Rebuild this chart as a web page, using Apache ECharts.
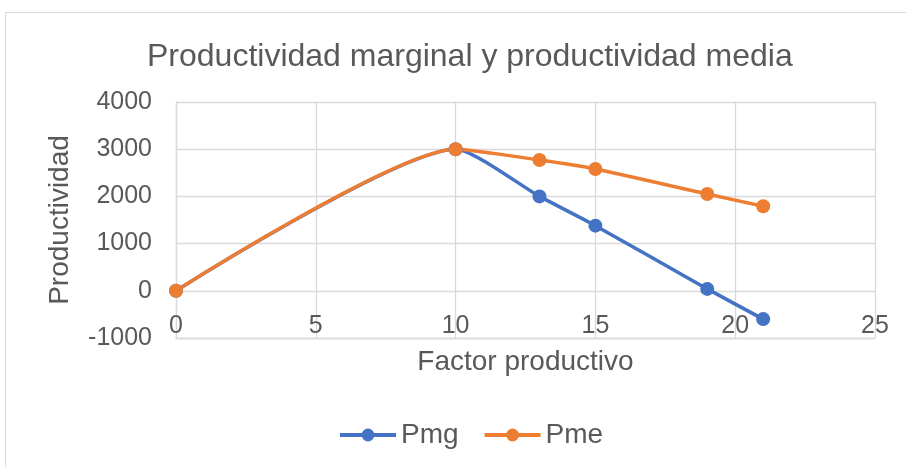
<!DOCTYPE html>
<html><head><meta charset="utf-8">
<script src="https://cdn.jsdelivr.net/npm/echarts@6/dist/echarts.min.js"></script>
<style>html,body{margin:0;padding:0;background:#fff}#c{width:906px;height:467px}</style>
</head><body><div id="c"></div>
<script>
const factor = [0, 10, 13, 15, 19, 21];
const pmg = [0, 3000, 2000, 1380, 40, -600];
const pme = [0, 3000, 2770, 2580, 2050, 1790];
const seriesNames = ['Pmg', 'Pme'];
const chartTitle = 'Productividad marginal y productividad media';
const xName = 'Factor productivo';
const yName = 'Productividad';

const chart = echarts.init(document.getElementById('c'));
const txt = '#595959';
const ff = '"Liberation Sans", Arial, sans-serif';
chart.setOption({
  animation: false,
  textStyle: {fontFamily: ff},
  graphic: [{type: 'rect', shape: {x: 5.5, y: 12.5, width: 1000, height: 1000}, style: {fill: 'none', stroke: '#d9d9d9', lineWidth: 1}}],
  title: {text: chartTitle, left: 142, top: 36, textStyle: {fontFamily: ff, fontSize: 32, fontWeight: 'normal', color: txt}},
  legend: {top: 416, left: 333, itemWidth: 56, itemHeight: 16, itemGap: 24,
    lineStyle: {width: 4},
    textStyle: {fontFamily: ff, fontSize: 28, color: txt}, data: seriesNames},
  grid: {left: 176, right: 31, top: 102, bottom: 129, containLabel: false},
  xAxis: {type: 'value', min: 0, max: 25, interval: 5,
    name: xName, nameLocation: 'middle', nameGap: 10, nameMoveOverlap: false,
    nameTextStyle: {fontFamily: ff, fontSize: 28, color: txt, verticalAlign: 'top'},
    axisLine: {onZero: false, lineStyle: {color: '#d9d9d9', width: 1.3}},
    axisTick: {show: false},
    axisLabel: {fontFamily: ff, fontSize: 25, color: txt, margin: -24},
    splitLine: {show: true, lineStyle: {color: '#d9d9d9', width: 1.3}}},
  yAxis: {type: 'value', min: -1000, max: 4000, interval: 1000,
    name: yName, nameLocation: 'middle', nameGap: 102,
    nameTextStyle: {fontFamily: ff, fontSize: 28, color: txt},
    axisLine: {show: true, lineStyle: {color: '#d9d9d9', width: 1.3}},
    axisTick: {show: false},
    axisLabel: {fontFamily: ff, fontSize: 25, color: txt, margin: 24, formatter: v => String(v)},
    splitLine: {show: true, lineStyle: {color: '#d9d9d9', width: 1.3}}},
  series: [
    {name: seriesNames[0], type: 'line', smooth: 0.2, symbol: 'circle', symbolSize: 14,
     data: factor.map((x, i) => [x, pmg[i]]),
     itemStyle: {color: '#4472C4'}, lineStyle: {color: '#4472C4', width: 3.5}},
    {name: seriesNames[1], type: 'line', smooth: 0.2, symbol: 'circle', symbolSize: 14,
     data: factor.map((x, i) => [x, pme[i]]),
     itemStyle: {color: '#ED7D31'}, lineStyle: {color: '#ED7D31', width: 3.5}}
  ]
});
</script></body></html>
